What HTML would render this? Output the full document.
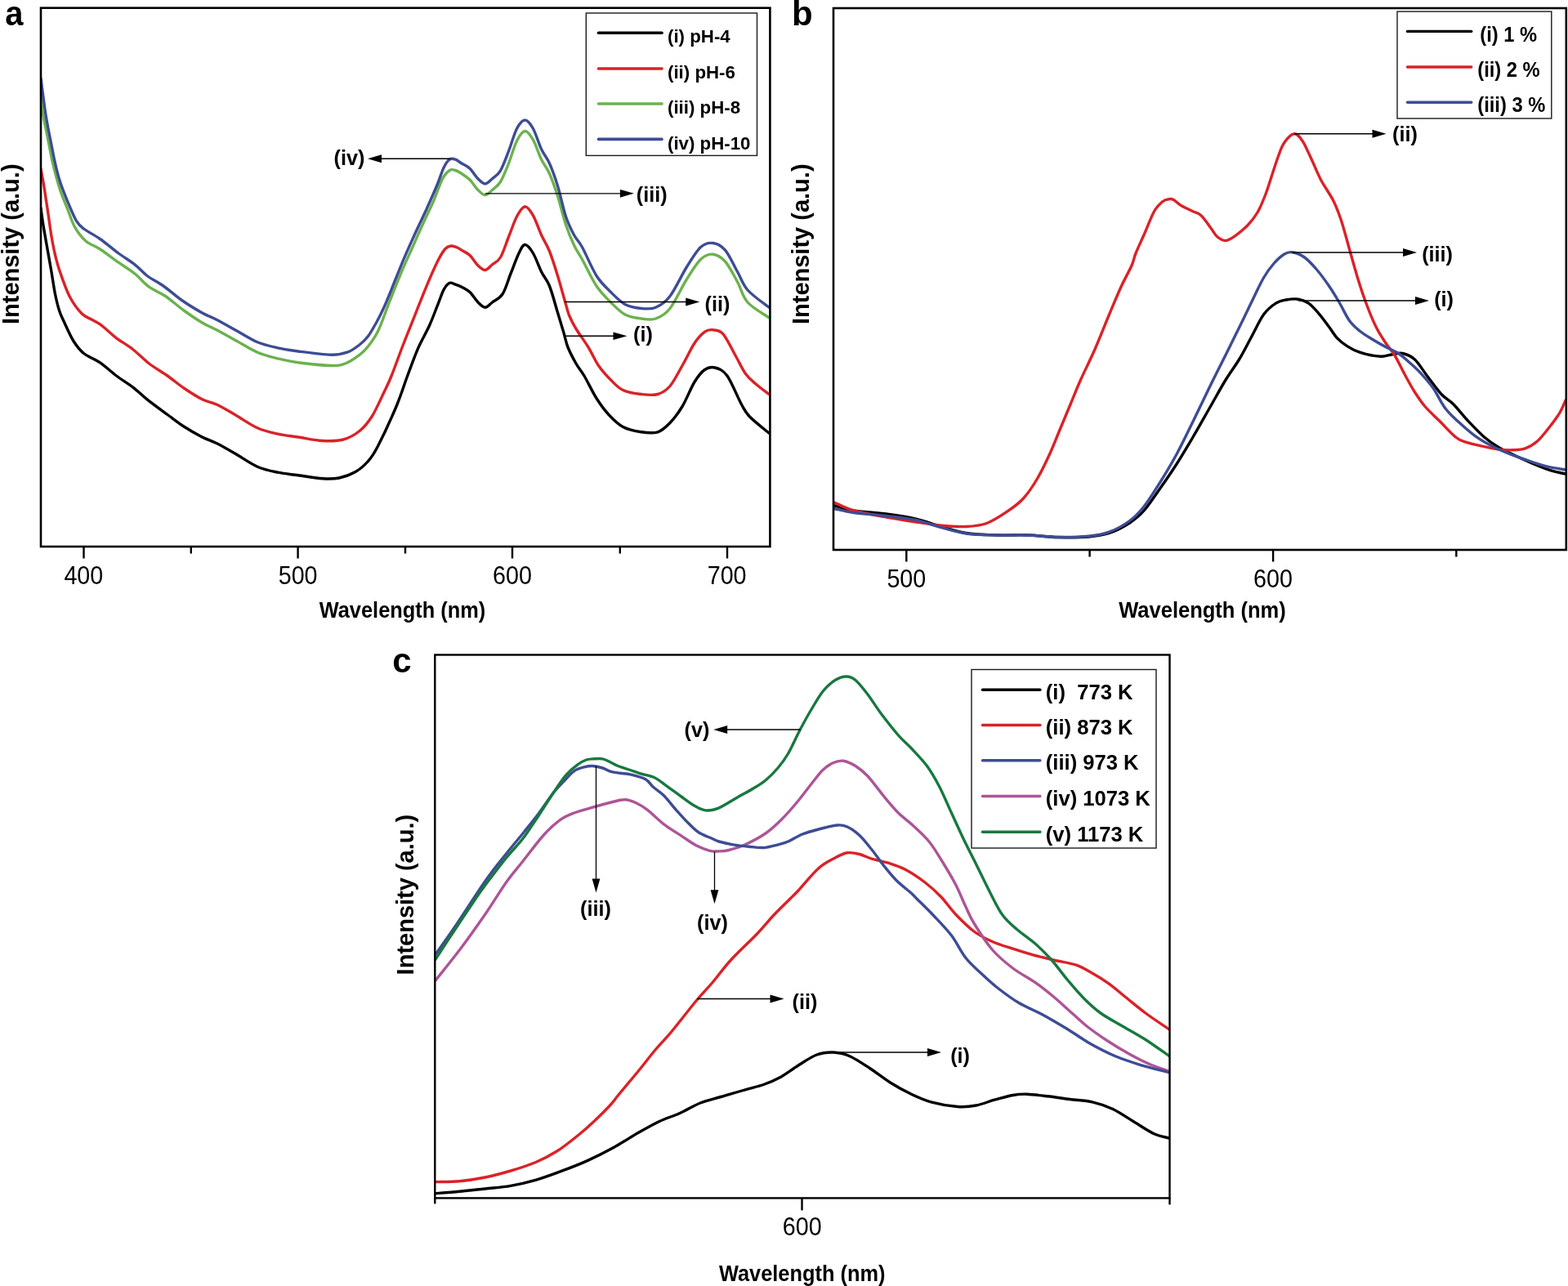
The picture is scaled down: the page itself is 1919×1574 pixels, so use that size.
<!DOCTYPE html>
<html><head><meta charset="utf-8"><title>Emission spectra figure</title>
<style>
html,body{margin:0;padding:0;background:#fff;}
body{width:1919px;height:1574px;overflow:hidden;}
svg{display:block;}
text{font-family:"Liberation Sans",Arial,Helvetica,sans-serif;fill:#000;white-space:pre;}
.b{font-weight:bold;}
</style></head><body>
<svg width="1919" height="1574" viewBox="0 0 1919 1574">
<rect x="0" y="0" width="1919" height="1574" fill="#fff"/>
<clipPath id="clip0"><rect x="50" y="9.7" width="892.4" height="659.3"/></clipPath>
<g clip-path="url(#clip0)">
<path d="M50.0,255.0 C50.4,258.1 51.7,267.7 52.6,273.5 C53.5,279.3 53.8,280.6 55.4,290.0 C57.0,299.4 60.5,318.3 62.5,330.0 C64.5,341.7 65.8,351.7 67.5,360.0 C69.2,368.3 70.8,374.7 72.5,380.0 C74.2,385.3 74.6,385.8 77.5,392.0 C80.4,398.2 85.8,410.8 90.0,417.5 C94.2,424.2 97.1,428.1 102.5,432.5 C107.9,436.9 115.8,439.2 122.5,443.8 C129.2,448.3 135.8,455.0 142.5,460.0 C149.2,465.0 156.2,469.0 162.5,473.8 C168.8,478.5 172.9,483.1 180.0,488.8 C187.1,494.4 197.5,502.0 205.0,507.5 C212.5,513.0 217.9,517.4 225.0,522.0 C232.1,526.6 240.8,531.6 247.5,535.0 C254.2,538.4 258.3,539.2 265.0,542.5 C271.7,545.8 279.2,550.2 287.5,555.0 C295.8,559.8 306.2,567.4 315.0,571.2 C323.8,575.1 331.7,576.5 340.0,578.2 C348.3,580.0 355.8,580.5 365.0,581.8 C374.2,583.0 386.7,585.2 395.0,585.8 C403.3,586.3 408.3,586.4 415.0,585.0 C421.7,583.6 429.2,580.8 435.0,577.5 C440.8,574.2 445.5,570.1 450.0,565.0 C454.5,559.9 456.2,558.2 462.0,547.0 C467.8,535.8 478.9,512.0 485.0,497.5 C491.1,483.0 494.3,471.7 498.7,460.0 C503.1,448.3 506.8,437.5 511.2,427.3 C515.6,417.1 521.2,408.0 525.4,398.8 C529.5,389.6 533.1,379.5 536.1,372.1 C539.1,364.7 540.8,358.6 543.2,354.3 C545.6,350.0 547.9,347.3 550.3,346.3 C552.7,345.3 554.9,347.3 557.4,348.1 C559.9,348.9 562.1,349.7 565.0,351.2 C567.9,352.8 571.7,354.4 575.0,357.5 C578.3,360.6 581.9,366.9 585.0,370.0 C588.1,373.1 590.8,376.2 593.8,376.2 C596.7,376.2 599.0,372.7 602.5,370.0 C606.0,367.3 611.2,365.8 615.0,360.0 C618.8,354.2 621.7,343.3 625.0,335.0 C628.3,326.7 632.1,315.9 635.0,310.0 C637.9,304.1 639.6,299.5 642.5,299.5 C645.4,299.5 649.2,304.5 652.5,310.0 C655.8,315.5 659.2,325.8 662.5,332.5 C665.8,339.2 669.2,341.7 672.5,350.0 C675.8,358.3 679.6,372.9 682.5,382.5 C685.4,392.1 687.9,400.4 690.0,407.5 C692.1,414.6 692.5,418.8 695.0,425.0 C697.5,431.2 701.7,439.2 705.0,445.0 C708.3,450.8 710.8,452.9 715.0,460.0 C719.2,467.1 725.0,479.6 730.0,487.5 C735.0,495.4 739.6,501.7 745.0,507.5 C750.4,513.3 755.8,519.0 762.5,522.5 C769.2,526.0 777.9,527.7 785.0,528.8 C792.1,529.8 799.2,530.6 805.0,528.8 C810.8,526.9 815.0,522.7 820.0,517.5 C825.0,512.3 830.0,505.8 835.0,497.5 C840.0,489.2 845.4,475.0 850.0,467.5 C854.6,460.0 858.3,455.4 862.5,452.5 C866.7,449.6 870.4,448.8 875.0,450.0 C879.6,451.2 884.6,452.5 890.0,460.0 C895.4,467.5 902.9,486.7 907.5,495.0 C912.1,503.3 911.9,504.2 917.5,510.0 C923.1,515.8 937.1,526.7 941.0,530.0" fill="none" stroke="#000000" stroke-width="3.4" stroke-linejoin="round" stroke-linecap="round"/>
<path d="M50.0,207.0 C50.6,210.1 52.4,219.5 53.5,225.8 C54.6,232.1 55.4,238.6 56.4,244.9 C57.4,251.2 58.2,256.4 59.3,263.9 C60.4,271.4 61.7,282.0 63.1,290.0 C64.5,298.0 65.9,305.3 67.5,312.0 C69.1,318.7 69.6,321.6 72.5,330.0 C75.4,338.4 80.4,353.5 85.0,362.5 C89.6,371.5 95.4,379.0 100.0,383.8 C104.6,388.5 108.3,388.8 112.5,391.2 C116.7,393.8 120.0,395.0 125.0,398.8 C130.0,402.5 136.2,409.0 142.5,413.8 C148.8,418.5 155.8,422.3 162.5,427.5 C169.2,432.7 175.4,439.6 182.5,445.0 C189.6,450.4 197.9,455.0 205.0,460.0 C212.1,465.0 217.9,470.2 225.0,475.0 C232.1,479.8 240.8,485.4 247.5,488.8 C254.2,492.1 258.3,491.9 265.0,495.0 C271.7,498.1 279.2,502.7 287.5,507.5 C295.8,512.3 306.2,519.8 315.0,523.8 C323.8,527.7 331.7,529.4 340.0,531.2 C348.3,533.1 355.8,533.6 365.0,535.0 C374.2,536.4 385.8,539.0 395.0,539.5 C404.2,540.0 412.5,540.0 420.0,538.0 C427.5,536.0 434.2,532.2 440.0,527.5 C445.8,522.8 450.0,517.9 455.0,510.0 C460.0,502.1 466.0,488.3 470.0,480.0 C474.0,471.7 475.2,469.7 479.1,460.0 C483.0,450.3 488.6,434.3 493.4,422.0 C498.1,409.7 502.9,398.3 507.6,386.4 C512.3,374.5 517.0,362.1 521.8,350.8 C526.5,339.5 532.2,326.5 536.1,318.8 C540.0,311.1 542.3,307.5 545.0,304.5 C547.7,301.5 549.7,301.3 552.1,301.0 C554.5,300.7 557.1,301.9 559.2,302.8 C561.4,303.7 562.4,304.6 565.0,306.2 C567.6,307.9 571.7,309.4 575.0,312.5 C578.3,315.6 581.9,322.0 585.0,325.0 C588.1,328.0 590.8,330.7 593.8,330.5 C596.7,330.3 599.4,326.3 602.5,323.8 C605.6,321.2 609.2,320.6 612.5,315.0 C615.8,309.4 619.2,298.3 622.5,290.0 C625.8,281.7 629.2,271.2 632.5,265.0 C635.8,258.8 639.2,253.2 642.5,253.0 C645.8,252.8 649.2,258.0 652.5,263.8 C655.8,269.5 659.2,280.2 662.5,287.5 C665.8,294.8 669.2,299.2 672.5,307.5 C675.8,315.8 679.2,326.7 682.5,337.5 C685.8,348.3 690.1,364.2 692.5,372.5 C694.9,380.8 694.9,382.0 697.0,387.0 C699.1,392.0 701.2,396.2 705.0,402.5 C708.8,408.8 715.4,417.5 720.0,425.0 C724.6,432.5 727.9,440.8 732.5,447.5 C737.1,454.2 742.5,460.0 747.5,465.0 C752.5,470.0 756.2,474.6 762.5,477.5 C768.8,480.4 777.9,481.7 785.0,482.5 C792.1,483.3 799.2,484.2 805.0,482.5 C810.8,480.8 815.0,478.3 820.0,472.5 C825.0,466.7 830.0,456.2 835.0,447.5 C840.0,438.8 845.4,426.9 850.0,420.0 C854.6,413.1 858.8,409.0 862.5,406.2 C866.2,403.5 868.8,403.3 872.5,403.8 C876.2,404.2 880.4,403.5 885.0,408.8 C889.6,414.0 895.4,426.9 900.0,435.0 C904.6,443.1 908.3,451.7 912.5,457.5 C916.7,463.3 920.2,465.8 925.0,470.0 C929.8,474.2 938.3,480.4 941.0,482.5" fill="none" stroke="#da2228" stroke-width="3.4" stroke-linejoin="round" stroke-linecap="round"/>
<path d="M50.0,118.0 C50.4,121.7 51.5,133.2 52.6,140.0 C53.7,146.8 55.1,152.7 56.4,159.0 C57.7,165.3 58.9,171.7 60.2,178.1 C61.5,184.5 62.6,190.8 64.0,197.2 C65.4,203.6 67.0,210.0 68.8,216.3 C70.5,222.7 72.3,229.0 74.5,235.3 C76.7,241.7 79.2,247.2 82.1,254.4 C85.0,261.6 87.9,271.4 91.7,278.2 C95.5,285.0 99.9,290.5 105.0,295.0 C110.1,299.5 115.8,300.6 122.5,305.0 C129.2,309.4 137.9,316.2 145.0,321.2 C152.1,326.2 158.8,330.0 165.0,335.0 C171.2,340.0 176.2,346.7 182.5,351.2 C188.8,355.8 195.4,357.7 202.5,362.5 C209.6,367.3 217.5,374.6 225.0,380.0 C232.5,385.4 240.8,391.0 247.5,395.0 C254.2,399.0 257.9,400.0 265.0,403.8 C272.1,407.5 281.7,412.9 290.0,417.5 C298.3,422.1 306.7,427.7 315.0,431.2 C323.3,434.8 331.7,436.7 340.0,438.8 C348.3,440.8 354.2,442.3 365.0,443.8 C375.8,445.2 395.4,447.3 405.0,447.5 C414.6,447.7 416.7,447.2 422.5,445.0 C428.3,442.8 435.3,437.9 440.0,434.4 C444.7,430.8 446.8,428.7 450.7,423.7 C454.6,418.7 459.0,412.8 463.1,404.2 C467.2,395.6 471.2,383.4 475.6,372.1 C480.1,360.8 485.1,347.9 489.8,336.6 C494.5,325.3 499.2,315.2 504.0,304.5 C508.8,293.8 513.8,282.3 518.3,272.5 C522.8,262.7 526.9,254.7 530.7,245.8 C534.6,236.9 538.1,225.3 541.4,219.1 C544.7,212.9 547.6,210.3 550.3,208.5 C553.0,206.7 554.9,207.8 557.4,208.5 C559.9,209.2 562.1,210.6 565.0,212.5 C567.9,214.4 571.7,216.7 575.0,220.0 C578.3,223.3 581.9,229.4 585.0,232.5 C588.1,235.6 590.8,238.8 593.8,238.8 C596.7,238.8 599.4,235.2 602.5,232.5 C605.6,229.8 609.2,227.9 612.5,222.5 C615.8,217.1 619.2,208.3 622.5,200.0 C625.8,191.7 629.2,179.1 632.5,172.5 C635.8,165.9 639.2,160.7 642.5,160.5 C645.8,160.3 649.2,165.5 652.5,171.2 C655.8,177.0 659.2,188.1 662.5,195.0 C665.8,201.9 669.2,205.0 672.5,212.5 C675.8,220.0 679.2,229.6 682.5,240.0 C685.8,250.4 689.2,265.0 692.5,275.0 C695.8,285.0 699.2,292.9 702.5,300.0 C705.8,307.1 707.9,309.2 712.5,317.5 C717.1,325.8 724.2,341.2 730.0,350.0 C735.8,358.8 741.7,364.2 747.5,370.0 C753.3,375.8 758.8,381.7 765.0,385.0 C771.2,388.3 778.8,389.2 785.0,390.0 C791.2,390.8 796.7,392.1 802.5,390.0 C808.3,387.9 813.8,385.4 820.0,377.5 C826.2,369.6 833.8,352.5 840.0,342.5 C846.2,332.5 852.1,322.7 857.5,317.5 C862.9,312.3 867.5,310.8 872.5,311.2 C877.5,311.7 882.5,314.4 887.5,320.0 C892.5,325.6 897.9,336.7 902.5,345.0 C907.1,353.3 908.6,362.7 915.0,370.0 C921.4,377.3 936.7,385.6 941.0,388.8" fill="none" stroke="#6bb24e" stroke-width="3.4" stroke-linejoin="round" stroke-linecap="round"/>
<path d="M50.0,96.0 C50.4,98.8 51.2,105.7 52.2,113.0 C53.2,120.3 54.7,132.3 55.9,140.0 C57.1,147.7 58.1,152.7 59.3,159.0 C60.5,165.3 61.8,171.7 63.1,178.1 C64.4,184.5 65.5,190.8 66.9,197.2 C68.3,203.6 70.0,210.7 71.6,216.3 C73.2,221.9 74.3,225.1 76.4,230.6 C78.5,236.1 81.1,242.9 84.0,249.6 C86.9,256.3 90.5,265.5 93.6,270.6 C96.7,275.7 97.7,276.4 102.5,280.0 C107.3,283.6 115.4,287.5 122.5,292.5 C129.6,297.5 137.9,304.8 145.0,310.0 C152.1,315.2 159.2,319.2 165.0,323.8 C170.8,328.3 174.2,333.1 180.0,337.5 C185.8,341.9 192.9,345.0 200.0,350.0 C207.1,355.0 214.6,362.0 222.5,367.5 C230.4,373.0 240.4,379.0 247.5,383.0 C254.6,387.0 257.9,387.6 265.0,391.2 C272.1,394.9 281.7,400.4 290.0,405.0 C298.3,409.6 306.7,415.3 315.0,418.8 C323.3,422.2 331.7,423.9 340.0,425.8 C348.3,427.6 354.2,428.6 365.0,430.0 C375.8,431.4 395.0,434.0 405.0,434.2 C415.0,434.5 419.2,433.3 425.0,431.2 C430.8,429.2 435.7,425.3 440.0,422.0 C444.3,418.7 447.1,416.1 450.7,411.3 C454.2,406.6 458.3,398.8 461.3,393.5 C464.3,388.2 465.5,385.8 468.5,379.3 C471.5,372.8 475.0,364.4 479.1,354.3 C483.2,344.2 488.6,330.1 493.4,318.8 C498.1,307.5 502.9,297.1 507.6,286.7 C512.3,276.3 517.3,266.3 521.8,256.5 C526.2,246.7 530.7,236.6 534.3,228.0 C537.9,219.4 540.5,210.4 543.2,204.9 C545.9,199.4 547.9,196.7 550.3,195.1 C552.7,193.5 554.9,194.3 557.4,195.1 C559.9,195.9 562.1,198.1 565.0,200.0 C567.9,201.9 571.7,203.1 575.0,206.2 C578.3,209.4 581.9,215.6 585.0,218.8 C588.1,221.9 590.8,225.0 593.8,225.0 C596.7,225.0 599.4,221.5 602.5,218.8 C605.6,216.0 609.2,214.4 612.5,208.8 C615.8,203.1 619.2,193.5 622.5,185.0 C625.8,176.5 629.2,163.8 632.5,157.5 C635.8,151.2 639.2,147.0 642.5,147.0 C645.8,147.0 649.2,151.6 652.5,157.5 C655.8,163.4 659.2,175.4 662.5,182.5 C665.8,189.6 669.2,192.5 672.5,200.0 C675.8,207.5 679.2,216.7 682.5,227.5 C685.8,238.3 689.2,255.0 692.5,265.0 C695.8,275.0 699.2,281.2 702.5,287.5 C705.8,293.8 707.9,294.2 712.5,302.5 C717.1,310.8 724.2,328.3 730.0,337.5 C735.8,346.7 741.7,351.7 747.5,357.5 C753.3,363.3 758.8,369.2 765.0,372.5 C771.2,375.8 778.8,376.9 785.0,377.5 C791.2,378.1 796.7,378.8 802.5,376.2 C808.3,373.8 813.8,370.6 820.0,362.5 C826.2,354.4 833.8,337.5 840.0,327.5 C846.2,317.5 852.1,307.5 857.5,302.5 C862.9,297.5 867.5,296.9 872.5,297.5 C877.5,298.1 882.5,300.4 887.5,306.2 C892.5,312.1 897.9,324.4 902.5,332.5 C907.1,340.6 908.6,347.7 915.0,355.0 C921.4,362.3 936.7,372.7 941.0,376.2" fill="none" stroke="#3d4c94" stroke-width="3.4" stroke-linejoin="round" stroke-linecap="round"/>
</g>
<rect x="50" y="9.7" width="892.4" height="659.3" fill="none" stroke="#000" stroke-width="2.6"/>
<line x1="102.5" y1="669" x2="102.5" y2="683.5" stroke="#000" stroke-width="2.4" stroke-linecap="butt"/>
<line x1="233.8" y1="669" x2="233.8" y2="677.5" stroke="#000" stroke-width="2.4" stroke-linecap="butt"/>
<line x1="364.6" y1="669" x2="364.6" y2="683.5" stroke="#000" stroke-width="2.4" stroke-linecap="butt"/>
<line x1="496" y1="669" x2="496" y2="677.5" stroke="#000" stroke-width="2.4" stroke-linecap="butt"/>
<line x1="627" y1="669" x2="627" y2="683.5" stroke="#000" stroke-width="2.4" stroke-linecap="butt"/>
<line x1="758.8" y1="669" x2="758.8" y2="677.5" stroke="#000" stroke-width="2.4" stroke-linecap="butt"/>
<line x1="890" y1="669" x2="890" y2="683.5" stroke="#000" stroke-width="2.4" stroke-linecap="butt"/>
<text x="0" y="0" font-size="30.5" text-anchor="middle" transform="translate(102.30,714.50) scale(0.940,1)">400</text>
<text x="0" y="0" font-size="30.5" text-anchor="middle" transform="translate(364.60,714.50) scale(0.940,1)">500</text>
<text x="0" y="0" font-size="30.5" text-anchor="middle" transform="translate(627.00,714.50) scale(0.940,1)">600</text>
<text x="0" y="0" font-size="30.5" text-anchor="middle" transform="translate(889.60,714.50) scale(0.940,1)">700</text>
<text x="0" y="0" font-size="27.3" class="b" text-anchor="middle" transform="translate(492.50,756.00) scale(0.930,1)">Wavelength (nm)</text>
<text x="0" y="0" font-size="29" class="b" text-anchor="middle" transform="translate(23.00,298.75) rotate(-90)">Intensity (a.u.)</text>
<text x="0" y="0" font-size="42" class="b" text-anchor="start" transform="translate(6.30,31.00) scale(0.950,1)">a</text>
<text x="0" y="0" font-size="25.2" class="b" text-anchor="end" transform="translate(446.30,202.00)">(iv)</text>
<text x="0" y="0" font-size="25.2" class="b" text-anchor="start" transform="translate(778.80,247.20)">(iii)</text>
<text x="0" y="0" font-size="25.2" class="b" text-anchor="start" transform="translate(862.50,380.80)">(ii)</text>
<text x="0" y="0" font-size="25.2" class="b" text-anchor="start" transform="translate(775.00,418.30)">(i)</text>
<rect x="717.3" y="16" width="209.2" height="174.4" fill="#fff" stroke="#1a1a1a" stroke-width="1.4"/>
<line x1="732.5" y1="40.2" x2="810" y2="40.2" stroke="#000000" stroke-width="3.6" stroke-linecap="round"/>
<text x="0" y="0" font-size="22.4" class="b" text-anchor="start" transform="translate(817.00,52.40) scale(0.995,1)">(i) pH-4</text>
<line x1="732.5" y1="84" x2="810" y2="84" stroke="#da2228" stroke-width="3.6" stroke-linecap="round"/>
<text x="0" y="0" font-size="22.4" class="b" text-anchor="start" transform="translate(817.00,96.20) scale(0.995,1)">(ii) pH-6</text>
<line x1="732.5" y1="127" x2="810" y2="127" stroke="#6bb24e" stroke-width="3.6" stroke-linecap="round"/>
<text x="0" y="0" font-size="22.4" class="b" text-anchor="start" transform="translate(817.00,139.20) scale(0.995,1)">(iii) pH-8</text>
<line x1="732.5" y1="170.4" x2="810" y2="170.4" stroke="#3d4c94" stroke-width="3.6" stroke-linecap="round"/>
<text x="0" y="0" font-size="22.4" class="b" text-anchor="start" transform="translate(817.00,182.60) scale(0.995,1)">(iv) pH-10</text>
<line x1="551.25" y1="194.25" x2="466.0" y2="194.25" stroke="#000" stroke-width="1.3" stroke-linecap="butt"/><polygon points="450.0,194.2 467.0,189.3 467.0,199.2" fill="#000"/>
<line x1="593.75" y1="236.8" x2="759.9" y2="236.8" stroke="#000" stroke-width="1.3" stroke-linecap="butt"/><polygon points="775.9,236.8 758.9,241.7 758.9,231.9" fill="#000"/>
<line x1="691.25" y1="369.5" x2="840.25" y2="369.5" stroke="#000" stroke-width="1.3" stroke-linecap="butt"/><polygon points="856.2,369.5 839.2,374.4 839.2,364.6" fill="#000"/>
<line x1="691.25" y1="411.25" x2="751.5" y2="411.25" stroke="#000" stroke-width="1.3" stroke-linecap="butt"/><polygon points="767.5,411.2 750.5,416.1 750.5,406.4" fill="#000"/>
<clipPath id="clip1"><rect x="1020" y="10" width="896.8" height="663"/></clipPath>
<g clip-path="url(#clip1)">
<path d="M1021.0,618.8 C1025.0,619.8 1034.8,623.3 1045.0,625.0 C1055.2,626.7 1070.0,627.1 1082.5,628.8 C1095.0,630.4 1108.8,632.5 1120.0,635.0 C1131.2,637.5 1139.6,640.8 1150.0,643.8 C1160.4,646.7 1170.8,650.6 1182.5,652.5 C1194.2,654.4 1207.5,654.6 1220.0,655.0 C1232.5,655.4 1245.0,654.6 1257.5,655.0 C1270.0,655.4 1282.5,657.2 1295.0,657.5 C1307.5,657.8 1322.1,657.8 1332.5,657.0 C1342.9,656.2 1349.2,655.3 1357.5,652.5 C1365.8,649.7 1375.4,644.6 1382.5,640.0 C1389.6,635.4 1393.8,632.1 1400.0,625.0 C1406.2,617.9 1413.3,607.0 1420.0,597.5 C1426.7,588.0 1433.3,578.4 1440.0,568.0 C1446.7,557.6 1453.3,546.3 1460.0,535.0 C1466.7,523.7 1473.3,511.7 1480.0,500.0 C1486.7,488.3 1493.9,475.0 1500.0,465.0 C1506.1,455.0 1511.2,448.8 1516.5,440.0 C1521.8,431.2 1526.5,421.7 1531.5,412.5 C1536.5,403.3 1541.5,391.9 1546.5,385.0 C1551.5,378.1 1556.9,374.2 1561.5,371.2 C1566.1,368.2 1569.4,367.8 1574.0,367.0 C1578.6,366.2 1584.4,365.5 1589.0,366.2 C1593.6,367.0 1597.3,368.3 1601.5,371.2 C1605.7,374.2 1609.8,379.0 1614.0,383.8 C1618.2,388.5 1622.8,395.0 1626.5,400.0 C1630.2,405.0 1632.8,409.8 1636.5,413.8 C1640.2,417.7 1644.4,420.8 1649.0,423.8 C1653.6,426.7 1659.0,429.4 1664.0,431.2 C1669.0,433.1 1674.4,434.2 1679.0,435.0 C1683.6,435.8 1687.3,436.5 1691.5,436.2 C1695.7,436.0 1699.8,434.4 1704.0,433.8 C1708.2,433.1 1711.9,431.5 1716.5,432.5 C1721.1,433.5 1726.5,435.4 1731.5,440.0 C1736.5,444.6 1741.1,452.9 1746.5,460.0 C1751.9,467.1 1758.6,476.7 1764.0,482.5 C1769.4,488.3 1773.6,489.6 1779.0,495.0 C1784.4,500.4 1790.2,508.3 1796.5,515.0 C1802.8,521.7 1810.2,529.6 1816.5,535.0 C1822.8,540.4 1827.8,543.8 1834.0,547.5 C1840.2,551.2 1846.5,554.0 1854.0,557.5 C1861.5,561.0 1871.5,565.6 1879.0,568.8 C1886.5,571.9 1892.8,574.4 1899.0,576.2 C1905.2,578.1 1913.2,579.4 1916.0,580.0" fill="none" stroke="#000000" stroke-width="3.4" stroke-linejoin="round" stroke-linecap="round"/>
<path d="M1021.0,615.0 C1025.0,616.7 1034.8,622.1 1045.0,625.0 C1055.2,627.9 1070.0,630.2 1082.5,632.5 C1095.0,634.8 1108.8,637.0 1120.0,638.8 C1131.2,640.5 1139.6,642.0 1150.0,643.0 C1160.4,644.0 1172.9,644.9 1182.5,644.5 C1192.1,644.1 1199.2,643.5 1207.5,640.5 C1215.8,637.5 1225.0,631.3 1232.5,626.2 C1240.0,621.2 1246.2,616.9 1252.5,610.0 C1258.8,603.1 1264.6,594.2 1270.0,585.0 C1275.4,575.8 1280.4,565.0 1285.0,555.0 C1289.6,545.0 1293.3,535.0 1297.5,525.0 C1301.7,515.0 1305.8,505.0 1310.0,495.0 C1314.2,485.0 1317.5,476.2 1322.5,465.0 C1327.5,453.8 1334.2,440.8 1340.0,427.5 C1345.8,414.2 1352.1,397.9 1357.5,385.0 C1362.9,372.1 1367.9,360.0 1372.5,350.0 C1377.1,340.0 1382.1,331.7 1385.0,325.0 C1387.9,318.3 1387.5,316.2 1390.0,310.0 C1392.5,303.8 1396.2,296.0 1400.0,287.5 C1403.8,279.0 1408.8,265.5 1412.5,258.8 C1416.2,252.0 1419.6,249.5 1422.5,247.0 C1425.4,244.5 1427.7,244.2 1430.0,243.8 C1432.3,243.3 1433.8,243.2 1436.2,244.5 C1438.8,245.8 1441.0,248.9 1445.0,251.2 C1449.0,253.6 1455.8,256.7 1460.0,258.8 C1464.2,260.8 1466.2,260.2 1470.0,263.8 C1473.8,267.3 1479.2,275.6 1482.5,280.0 C1485.8,284.4 1487.0,287.6 1490.0,290.0 C1493.0,292.4 1496.7,294.7 1500.2,294.5 C1503.8,294.3 1507.1,291.8 1511.5,288.8 C1515.9,285.7 1521.9,281.0 1526.5,276.2 C1531.1,271.5 1535.2,266.5 1539.0,260.0 C1542.8,253.5 1546.1,245.0 1549.0,237.5 C1551.9,230.0 1554.0,222.5 1556.5,215.0 C1559.0,207.5 1561.5,199.2 1564.0,192.5 C1566.5,185.8 1568.2,179.8 1571.5,175.0 C1574.8,170.2 1580.2,164.2 1584.0,163.8 C1587.8,163.3 1590.7,167.7 1594.0,172.5 C1597.3,177.3 1600.2,184.6 1604.0,192.5 C1607.8,200.4 1611.9,211.2 1616.5,220.0 C1621.1,228.8 1627.3,236.7 1631.5,245.0 C1635.7,253.3 1638.2,260.0 1641.5,270.0 C1644.8,280.0 1648.2,293.3 1651.5,305.0 C1654.8,316.7 1658.2,329.2 1661.5,340.0 C1664.8,350.8 1667.8,360.0 1671.5,370.0 C1675.2,380.0 1679.9,391.7 1684.0,400.0 C1688.1,408.3 1692.2,414.2 1696.0,420.0 C1699.8,425.8 1703.2,428.7 1707.0,435.0 C1710.8,441.3 1714.9,450.5 1719.0,458.0 C1723.1,465.5 1727.3,473.4 1731.5,480.0 C1735.7,486.6 1739.0,491.7 1744.0,497.5 C1749.0,503.3 1755.2,508.8 1761.5,515.0 C1767.8,521.2 1776.1,530.6 1781.5,535.0 C1786.9,539.4 1788.6,539.4 1794.0,541.2 C1799.4,543.1 1807.3,544.8 1814.0,546.2 C1820.7,547.7 1827.8,549.2 1834.0,550.0 C1840.2,550.8 1846.1,551.0 1851.5,550.8 C1856.9,550.5 1861.5,550.5 1866.5,548.8 C1871.5,547.0 1876.5,544.4 1881.5,540.0 C1886.5,535.6 1891.9,528.3 1896.5,522.5 C1901.1,516.7 1905.8,510.4 1909.0,505.0 C1912.2,499.6 1914.8,492.5 1916.0,490.0" fill="none" stroke="#da2228" stroke-width="3.4" stroke-linejoin="round" stroke-linecap="round"/>
<path d="M1021.0,622.5 C1025.0,623.3 1034.8,626.0 1045.0,627.5 C1055.2,629.0 1070.0,629.8 1082.5,631.2 C1095.0,632.7 1108.8,634.0 1120.0,636.2 C1131.2,638.5 1139.6,642.2 1150.0,645.0 C1160.4,647.8 1170.8,651.3 1182.5,653.0 C1194.2,654.7 1207.5,654.7 1220.0,655.0 C1232.5,655.3 1245.0,654.6 1257.5,655.0 C1270.0,655.4 1282.5,657.3 1295.0,657.5 C1307.5,657.7 1322.1,657.3 1332.5,656.2 C1342.9,655.2 1349.2,654.4 1357.5,651.2 C1365.8,648.1 1375.4,642.7 1382.5,637.5 C1389.6,632.3 1393.8,627.9 1400.0,620.0 C1406.2,612.1 1413.3,600.7 1420.0,590.0 C1426.7,579.3 1433.3,568.3 1440.0,556.0 C1446.7,543.7 1453.2,529.9 1460.0,516.0 C1466.8,502.1 1474.2,486.4 1481.0,472.5 C1487.8,458.6 1494.7,445.2 1501.0,432.5 C1507.3,419.8 1513.5,407.2 1519.0,396.0 C1524.5,384.8 1529.4,374.3 1534.0,365.0 C1538.6,355.7 1542.3,347.1 1546.5,340.0 C1550.7,332.9 1554.8,327.3 1559.0,322.5 C1563.2,317.7 1567.8,313.5 1571.5,311.2 C1575.2,309.0 1577.3,308.1 1581.5,308.8 C1585.7,309.4 1591.5,311.5 1596.5,315.0 C1601.5,318.5 1606.5,324.2 1611.5,330.0 C1616.5,335.8 1621.9,343.3 1626.5,350.0 C1631.1,356.7 1634.8,362.9 1639.0,370.0 C1643.2,377.1 1647.3,386.7 1651.5,392.5 C1655.7,398.3 1659.4,401.2 1664.0,405.0 C1668.6,408.8 1673.6,411.7 1679.0,415.0 C1684.4,418.3 1691.1,422.1 1696.5,425.0 C1701.9,427.9 1706.5,429.2 1711.5,432.5 C1716.5,435.8 1721.9,440.9 1726.5,445.0 C1731.1,449.1 1734.4,452.0 1739.0,457.0 C1743.6,462.0 1749.0,467.8 1754.0,475.0 C1759.0,482.2 1763.2,492.5 1769.0,500.0 C1774.8,507.5 1782.3,514.0 1789.0,520.0 C1795.7,526.0 1802.3,531.7 1809.0,536.2 C1815.7,540.8 1822.3,544.2 1829.0,547.5 C1835.7,550.8 1841.5,553.3 1849.0,556.2 C1856.5,559.2 1866.5,562.5 1874.0,565.0 C1881.5,567.5 1887.0,569.6 1894.0,571.2 C1901.0,572.9 1912.3,574.4 1916.0,575.0" fill="none" stroke="#3d4c94" stroke-width="3.4" stroke-linejoin="round" stroke-linecap="round"/>
</g>
<rect x="1020" y="10" width="896.8" height="663" fill="none" stroke="#000" stroke-width="2.6"/>
<line x1="1109.3" y1="673" x2="1109.3" y2="687.5" stroke="#000" stroke-width="2.4" stroke-linecap="butt"/>
<line x1="1333.6" y1="673" x2="1333.6" y2="681.5" stroke="#000" stroke-width="2.4" stroke-linecap="butt"/>
<line x1="1558.1" y1="673" x2="1558.1" y2="687.5" stroke="#000" stroke-width="2.4" stroke-linecap="butt"/>
<line x1="1782.3" y1="673" x2="1782.3" y2="681.5" stroke="#000" stroke-width="2.4" stroke-linecap="butt"/>
<text x="0" y="0" font-size="30.5" text-anchor="middle" transform="translate(1109.30,719.00) scale(0.940,1)">500</text>
<text x="0" y="0" font-size="30.5" text-anchor="middle" transform="translate(1558.00,719.00) scale(0.940,1)">600</text>
<text x="0" y="0" font-size="27.3" class="b" text-anchor="middle" transform="translate(1471.50,755.60) scale(0.935,1)">Wavelength (nm)</text>
<text x="0" y="0" font-size="29" class="b" text-anchor="middle" transform="translate(990.00,298.75) rotate(-90)">Intensity (a.u.)</text>
<text x="0" y="0" font-size="42" class="b" text-anchor="start" transform="translate(969.00,31.00)">b</text>
<text x="0" y="0" font-size="25.2" class="b" text-anchor="start" transform="translate(1704.00,172.60)">(ii)</text>
<text x="0" y="0" font-size="25.2" class="b" text-anchor="start" transform="translate(1740.20,320.20)">(iii)</text>
<text x="0" y="0" font-size="25.2" class="b" text-anchor="start" transform="translate(1755.20,374.50)">(i)</text>
<rect x="1710" y="14.1" width="188.8" height="130.9" fill="#fff" stroke="#1a1a1a" stroke-width="1.4"/>
<line x1="1722.5" y1="38.4" x2="1800.7" y2="38.4" stroke="#000000" stroke-width="3.4" stroke-linecap="round"/>
<text x="0" y="0" font-size="25.5" class="b" text-anchor="start" transform="translate(1811.30,50.50) scale(0.930,1)">(i) 1 %</text>
<line x1="1722.5" y1="82" x2="1800.7" y2="82" stroke="#da2228" stroke-width="3.4" stroke-linecap="round"/>
<text x="0" y="0" font-size="25.5" class="b" text-anchor="start" transform="translate(1808.30,94.10) scale(0.930,1)">(ii) 2 %</text>
<line x1="1722.5" y1="125.3" x2="1800.7" y2="125.3" stroke="#3d4c94" stroke-width="3.4" stroke-linecap="round"/>
<text x="0" y="0" font-size="25.5" class="b" text-anchor="start" transform="translate(1808.30,137.40) scale(0.930,1)">(iii) 3 %</text>
<line x1="1584" y1="163.75" x2="1680.5" y2="163.75" stroke="#000" stroke-width="1.3" stroke-linecap="butt"/><polygon points="1696.5,163.8 1679.5,168.7 1679.5,158.8" fill="#000"/>
<line x1="1581.5" y1="309" x2="1718.0" y2="309.0" stroke="#000" stroke-width="1.3" stroke-linecap="butt"/><polygon points="1734.0,309.0 1717.0,313.9 1717.0,304.1" fill="#000"/>
<line x1="1589" y1="368" x2="1733.0" y2="368.0" stroke="#000" stroke-width="1.3" stroke-linecap="butt"/><polygon points="1749.0,368.0 1732.0,372.9 1732.0,363.1" fill="#000"/>
<clipPath id="clip2"><rect x="532.3" y="801.5" width="899.2" height="664.9"/></clipPath>
<g clip-path="url(#clip2)">
<path d="M533.0,1460.7 C537.9,1460.3 552.4,1459.2 562.5,1458.2 C572.6,1457.2 583.4,1456.2 593.8,1455.0 C604.2,1453.8 614.6,1453.1 625.0,1451.3 C635.4,1449.5 645.9,1447.1 656.3,1444.1 C666.7,1441.1 677.2,1437.1 687.6,1433.2 C698.0,1429.3 708.3,1425.4 718.9,1420.6 C729.5,1415.8 740.6,1410.2 751.0,1404.5 C761.4,1398.8 772.1,1391.6 781.4,1386.3 C790.7,1381.0 798.6,1376.5 807.0,1372.5 C815.4,1368.5 823.7,1366.2 832.0,1362.5 C840.3,1358.8 848.7,1353.3 857.0,1350.0 C865.3,1346.7 872.8,1345.2 882.0,1342.5 C891.2,1339.8 903.2,1336.2 912.0,1333.8 C920.8,1331.2 927.5,1330.0 934.5,1327.5 C941.5,1325.0 946.9,1322.9 954.0,1319.0 C961.1,1315.1 969.4,1308.7 977.0,1304.0 C984.6,1299.3 992.4,1293.7 999.5,1291.0 C1006.6,1288.3 1012.8,1287.8 1019.5,1288.0 C1026.2,1288.2 1032.0,1289.2 1039.5,1292.5 C1047.0,1295.8 1056.2,1302.1 1064.5,1307.5 C1072.8,1312.9 1081.2,1319.8 1089.5,1325.0 C1097.8,1330.2 1106.2,1334.8 1114.5,1338.8 C1122.8,1342.7 1129.9,1346.1 1139.5,1348.8 C1149.1,1351.4 1162.8,1353.8 1172.0,1354.5 C1181.2,1355.2 1187.0,1354.4 1194.5,1353.0 C1202.0,1351.6 1209.5,1348.3 1217.0,1346.2 C1224.5,1344.2 1232.8,1341.7 1239.5,1340.5 C1246.2,1339.3 1249.9,1339.0 1257.0,1339.2 C1264.1,1339.5 1273.2,1340.7 1282.0,1341.8 C1290.8,1342.8 1300.3,1344.3 1309.5,1345.5 C1318.7,1346.7 1328.2,1346.8 1337.0,1348.8 C1345.8,1350.8 1353.7,1353.5 1362.0,1357.5 C1370.3,1361.5 1378.7,1367.5 1387.0,1372.5 C1395.3,1377.5 1404.7,1384.1 1412.0,1387.5 C1419.3,1390.9 1427.8,1392.1 1431.0,1393.0" fill="none" stroke="#000000" stroke-width="3.4" stroke-linejoin="round" stroke-linecap="round"/>
<path d="M533.0,1446.6 C537.9,1446.4 552.4,1446.6 562.5,1445.7 C572.6,1444.8 583.4,1443.1 593.8,1441.0 C604.2,1438.9 614.6,1436.1 625.0,1433.0 C635.4,1429.9 646.8,1426.2 656.3,1422.2 C665.8,1418.2 673.5,1414.1 682.0,1408.8 C690.5,1403.4 699.5,1396.0 707.0,1390.0 C714.5,1384.0 720.3,1378.8 727.0,1372.5 C733.7,1366.2 742.0,1357.9 747.0,1352.5 C752.0,1347.1 751.2,1347.1 757.0,1340.0 C762.8,1332.9 774.5,1319.2 782.0,1310.0 C789.5,1300.8 795.3,1292.9 802.0,1285.0 C808.7,1277.1 813.7,1272.5 822.0,1262.5 C830.3,1252.5 843.7,1235.0 852.0,1225.0 C860.3,1215.0 864.9,1210.8 872.0,1202.5 C879.1,1194.2 885.3,1185.0 894.5,1175.0 C903.7,1165.0 918.2,1151.7 927.0,1142.5 C935.8,1133.3 940.3,1127.1 947.0,1120.0 C953.7,1112.9 962.0,1105.0 967.0,1100.0 C972.0,1095.0 971.2,1096.2 977.0,1090.0 C982.8,1083.8 994.5,1069.2 1002.0,1062.5 C1009.5,1055.8 1016.2,1053.1 1022.0,1050.0 C1027.8,1046.9 1032.0,1044.5 1037.0,1043.8 C1042.0,1043.0 1047.0,1044.2 1052.0,1045.5 C1057.0,1046.8 1061.2,1049.5 1067.0,1051.2 C1072.8,1053.0 1080.3,1054.2 1087.0,1056.2 C1093.7,1058.3 1099.5,1059.8 1107.0,1063.8 C1114.5,1067.7 1124.5,1074.3 1132.0,1080.0 C1139.5,1085.7 1145.8,1091.5 1152.0,1098.0 C1158.2,1104.5 1162.8,1112.0 1169.5,1119.0 C1176.2,1126.0 1184.5,1134.4 1192.0,1140.0 C1199.5,1145.6 1206.6,1149.0 1214.5,1152.5 C1222.4,1156.0 1231.2,1158.5 1239.5,1161.2 C1247.8,1164.0 1256.2,1166.5 1264.5,1168.8 C1272.8,1171.0 1280.8,1172.9 1289.5,1175.0 C1298.2,1177.1 1309.1,1178.5 1317.0,1181.2 C1324.9,1184.0 1330.3,1187.5 1337.0,1191.2 C1343.7,1195.0 1350.3,1199.0 1357.0,1203.8 C1363.7,1208.5 1369.5,1214.0 1377.0,1220.0 C1384.5,1226.0 1393.0,1233.3 1402.0,1240.0 C1411.0,1246.7 1426.2,1256.7 1431.0,1260.0" fill="none" stroke="#da2228" stroke-width="3.4" stroke-linejoin="round" stroke-linecap="round"/>
<path d="M533.0,1200.0 C538.2,1193.3 554.2,1173.7 564.5,1160.0 C574.8,1146.3 585.3,1131.3 594.5,1118.0 C603.7,1104.7 611.9,1090.7 619.5,1080.0 C627.1,1069.3 632.4,1063.6 640.0,1054.0 C647.6,1044.4 657.5,1030.9 665.0,1022.5 C672.5,1014.1 678.8,1008.4 685.0,1003.8 C691.2,999.2 695.4,997.7 702.5,995.0 C709.6,992.3 719.9,989.7 727.5,987.5 C735.1,985.3 741.8,983.5 748.0,982.0 C754.2,980.5 759.8,978.6 765.0,978.8 C770.2,979.0 774.4,980.9 779.0,983.0 C783.6,985.1 786.9,987.0 792.5,991.3 C798.1,995.6 805.4,1003.4 812.5,1008.8 C819.6,1014.2 828.3,1019.4 835.0,1023.8 C841.7,1028.2 846.9,1032.1 852.5,1035.0 C858.1,1037.9 864.2,1040.1 868.8,1041.3 C873.4,1042.5 876.1,1042.0 880.0,1041.9 C883.9,1041.8 886.7,1041.9 892.0,1040.5 C897.3,1039.1 904.5,1037.2 912.0,1033.8 C919.5,1030.3 929.5,1025.2 937.0,1020.0 C944.5,1014.8 950.3,1009.2 957.0,1002.5 C963.7,995.8 970.8,987.5 977.0,980.0 C983.2,972.5 989.5,963.8 994.5,957.5 C999.5,951.2 1002.8,946.5 1007.0,942.5 C1011.2,938.5 1015.3,935.6 1019.5,933.8 C1023.7,931.9 1027.4,930.6 1032.0,931.2 C1036.6,931.9 1042.0,934.4 1047.0,937.5 C1052.0,940.6 1056.2,943.8 1062.0,950.0 C1067.8,956.2 1075.8,967.5 1082.0,975.0 C1088.2,982.5 1093.7,989.2 1099.5,995.0 C1105.3,1000.8 1110.8,1004.2 1117.0,1010.0 C1123.2,1015.8 1131.2,1022.9 1137.0,1030.0 C1142.8,1037.1 1146.6,1043.8 1152.0,1052.5 C1157.4,1061.2 1164.5,1072.9 1169.5,1082.5 C1174.5,1092.1 1178.2,1102.1 1182.0,1110.0 C1185.8,1117.9 1186.6,1121.2 1192.0,1130.0 C1197.4,1138.8 1206.6,1153.3 1214.5,1162.5 C1222.4,1171.7 1230.8,1178.3 1239.5,1185.0 C1248.2,1191.7 1258.7,1196.7 1267.0,1202.5 C1275.3,1208.3 1282.0,1213.8 1289.5,1220.0 C1297.0,1226.2 1304.9,1233.8 1312.0,1240.0 C1319.1,1246.2 1324.5,1251.7 1332.0,1257.5 C1339.5,1263.3 1348.7,1269.6 1357.0,1275.0 C1365.3,1280.4 1373.7,1285.4 1382.0,1290.0 C1390.3,1294.6 1398.8,1299.0 1407.0,1302.5 C1415.2,1306.0 1427.0,1309.8 1431.0,1311.2" fill="none" stroke="#ad5597" stroke-width="3.4" stroke-linejoin="round" stroke-linecap="round"/>
<path d="M533.0,1168.0 C537.0,1162.3 546.8,1149.1 557.0,1134.0 C567.2,1118.9 584.1,1092.3 594.5,1077.5 C604.9,1062.7 611.9,1054.6 619.5,1045.0 C627.1,1035.4 633.5,1028.1 640.0,1020.0 C646.5,1011.9 652.5,1004.6 658.8,996.3 C665.0,988.0 672.3,976.7 677.5,970.0 C682.7,963.3 685.8,960.7 690.0,956.3 C694.2,951.9 698.3,946.7 702.5,943.8 C706.7,940.9 711.2,939.8 715.0,938.8 C718.8,937.8 721.2,937.3 725.0,937.5 C728.8,937.7 733.8,938.9 737.5,940.0 C741.2,941.1 744.0,943.4 747.5,944.4 C751.0,945.4 754.6,945.7 758.8,946.3 C763.0,946.9 767.3,946.9 772.5,948.1 C777.7,949.4 785.4,951.2 790.0,953.8 C794.6,956.4 796.2,960.5 800.0,963.8 C803.8,967.1 807.9,969.2 812.5,973.8 C817.1,978.4 822.5,985.7 827.5,991.3 C832.5,996.9 837.9,1002.9 842.5,1007.5 C847.1,1012.1 850.2,1015.7 855.0,1018.8 C859.8,1021.9 867.1,1024.4 871.3,1026.3 C875.5,1028.2 875.7,1028.8 880.0,1030.0 C884.3,1031.2 890.8,1032.7 897.0,1033.8 C903.2,1034.8 910.8,1035.6 917.0,1036.2 C923.2,1036.9 928.7,1037.9 934.5,1037.5 C940.3,1037.1 947.0,1035.0 952.0,1033.8 C957.0,1032.5 959.5,1032.1 964.5,1030.0 C969.5,1027.9 975.8,1023.5 982.0,1021.0 C988.2,1018.5 994.9,1016.8 1002.0,1015.0 C1009.1,1013.2 1018.7,1010.5 1024.5,1010.0 C1030.3,1009.5 1032.4,1009.9 1037.0,1012.0 C1041.6,1014.1 1047.0,1017.8 1052.0,1022.5 C1057.0,1027.2 1062.0,1033.8 1067.0,1040.0 C1072.0,1046.2 1077.0,1053.8 1082.0,1060.0 C1087.0,1066.2 1091.6,1072.1 1097.0,1077.5 C1102.4,1082.9 1110.3,1088.8 1114.5,1092.5 C1118.7,1096.2 1117.4,1095.4 1122.0,1100.0 C1126.6,1104.6 1134.9,1112.5 1142.0,1120.0 C1149.1,1127.5 1157.8,1136.2 1164.5,1145.0 C1171.2,1153.8 1175.8,1164.6 1182.0,1172.5 C1188.2,1180.4 1195.3,1186.2 1202.0,1192.5 C1208.7,1198.8 1214.5,1204.2 1222.0,1210.0 C1229.5,1215.8 1237.8,1222.1 1247.0,1227.5 C1256.2,1232.9 1267.0,1237.1 1277.0,1242.5 C1287.0,1247.9 1297.4,1254.2 1307.0,1260.0 C1316.6,1265.8 1324.9,1272.1 1334.5,1277.5 C1344.1,1282.9 1354.1,1288.1 1364.5,1292.5 C1374.9,1296.9 1385.9,1300.4 1397.0,1303.8 C1408.1,1307.1 1425.3,1311.0 1431.0,1312.5" fill="none" stroke="#3d4c94" stroke-width="3.4" stroke-linejoin="round" stroke-linecap="round"/>
<path d="M533.0,1174.0 C537.0,1167.9 548.8,1149.8 557.0,1137.5 C565.2,1125.2 575.8,1109.2 582.0,1100.0 C588.2,1090.8 588.2,1090.8 594.5,1082.5 C600.8,1074.2 611.9,1059.4 619.5,1050.0 C627.1,1040.6 633.5,1034.8 640.0,1026.3 C646.5,1017.8 652.5,1008.2 658.8,998.8 C665.0,989.4 671.9,978.3 677.5,970.0 C683.1,961.7 687.7,954.4 692.5,948.8 C697.3,943.2 702.1,939.4 706.3,936.3 C710.5,933.2 714.0,931.2 717.5,930.0 C721.0,928.8 724.2,929.0 727.5,928.8 C730.8,928.6 734.4,928.2 737.5,928.8 C740.6,929.4 743.2,931.0 746.3,932.5 C749.4,934.0 752.1,935.8 756.3,937.5 C760.5,939.2 766.7,940.9 771.3,942.5 C775.9,944.1 779.0,945.4 783.8,946.9 C788.6,948.4 794.8,948.9 800.0,951.3 C805.2,953.7 809.4,957.3 815.0,961.3 C820.6,965.2 828.0,970.8 833.8,975.0 C839.6,979.2 845.0,983.5 850.0,986.3 C855.0,989.1 858.8,991.5 863.8,991.9 C868.8,992.3 873.5,991.4 879.9,988.8 C886.3,986.2 895.0,980.2 902.0,976.2 C909.0,972.3 916.2,968.5 922.0,965.0 C927.8,961.5 932.0,959.2 937.0,955.0 C942.0,950.8 947.4,945.4 952.0,940.0 C956.6,934.6 959.9,930.4 964.5,922.5 C969.1,914.6 974.9,901.2 979.5,892.5 C984.1,883.8 987.4,877.7 992.0,870.0 C996.6,862.3 1002.0,852.5 1007.0,846.2 C1012.0,840.0 1017.2,835.5 1022.0,832.5 C1026.8,829.5 1031.6,828.0 1035.8,828.0 C1039.9,828.0 1042.6,828.8 1047.0,832.5 C1051.4,836.2 1056.6,842.9 1062.0,850.0 C1067.4,857.1 1073.2,866.7 1079.5,875.0 C1085.8,883.3 1093.7,893.3 1099.5,900.0 C1105.3,906.7 1108.7,908.8 1114.5,915.0 C1120.3,921.2 1128.7,929.6 1134.5,937.5 C1140.3,945.4 1144.5,952.9 1149.5,962.5 C1154.5,972.1 1159.5,984.2 1164.5,995.0 C1169.5,1005.8 1174.5,1017.1 1179.5,1027.5 C1184.5,1037.9 1189.1,1046.6 1194.5,1057.5 C1199.9,1068.4 1206.6,1082.6 1212.0,1093.0 C1217.4,1103.4 1221.6,1112.6 1227.0,1120.0 C1232.4,1127.4 1237.8,1131.7 1244.5,1137.5 C1251.2,1143.3 1259.9,1148.8 1267.0,1155.0 C1274.1,1161.2 1280.3,1167.5 1287.0,1175.0 C1293.7,1182.5 1300.3,1192.1 1307.0,1200.0 C1313.7,1207.9 1320.3,1215.8 1327.0,1222.5 C1333.7,1229.2 1339.5,1234.6 1347.0,1240.0 C1354.5,1245.4 1362.8,1249.6 1372.0,1255.0 C1381.2,1260.4 1392.2,1266.2 1402.0,1272.5 C1411.8,1278.8 1426.2,1289.2 1431.0,1292.5" fill="none" stroke="#17793f" stroke-width="3.4" stroke-linejoin="round" stroke-linecap="round"/>
</g>
<rect x="532.3" y="801.5" width="899.2" height="664.9" fill="none" stroke="#000" stroke-width="2.4"/>
<line x1="532.3" y1="1466.4" x2="532.3" y2="1473.4" stroke="#000" stroke-width="2.4" stroke-linecap="butt"/>
<line x1="981.5" y1="1466.4" x2="981.5" y2="1481.4" stroke="#000" stroke-width="2.4" stroke-linecap="butt"/>
<line x1="1431.5" y1="1466.4" x2="1431.5" y2="1474.4" stroke="#000" stroke-width="2.4" stroke-linecap="butt"/>
<text x="0" y="0" font-size="30.5" text-anchor="middle" transform="translate(981.70,1512.20) scale(0.940,1)">600</text>
<text x="0" y="0" font-size="27.3" class="b" text-anchor="middle" transform="translate(981.70,1568.20) scale(0.930,1)">Wavelength (nm)</text>
<text x="0" y="0" font-size="29" class="b" text-anchor="middle" transform="translate(505.70,1095.10) rotate(-90)">Intensity (a.u.)</text>
<text x="0" y="0" font-size="42" class="b" text-anchor="start" transform="translate(480.20,823.00)">c</text>
<text x="0" y="0" font-size="25.2" class="b" text-anchor="end" transform="translate(868.30,902.30)">(v)</text>
<text x="0" y="0" font-size="25.2" class="b" text-anchor="middle" transform="translate(728.90,1121.00)">(iii)</text>
<text x="0" y="0" font-size="25.2" class="b" text-anchor="middle" transform="translate(872.00,1138.00)">(iv)</text>
<text x="0" y="0" font-size="25.2" class="b" text-anchor="start" transform="translate(969.50,1235.20)">(ii)</text>
<text x="0" y="0" font-size="25.2" class="b" text-anchor="start" transform="translate(1163.20,1300.80)">(i)</text>
<rect x="1189" y="819.5" width="226" height="218.5" fill="#fff" stroke="#1a1a1a" stroke-width="1.4"/>
<line x1="1202.5" y1="844.25" x2="1272.9" y2="844.25" stroke="#000000" stroke-width="3.4" stroke-linecap="round"/>
<text x="0" y="0" font-size="25.6" class="b" text-anchor="start" transform="translate(1279.80,855.95)">(i)  773 K</text>
<line x1="1202.5" y1="887.5" x2="1272.9" y2="887.5" stroke="#da2228" stroke-width="3.4" stroke-linecap="round"/>
<text x="0" y="0" font-size="25.6" class="b" text-anchor="start" transform="translate(1279.80,899.20)">(ii) 873 K</text>
<line x1="1202.5" y1="930.75" x2="1272.9" y2="930.75" stroke="#3d4c94" stroke-width="3.4" stroke-linecap="round"/>
<text x="0" y="0" font-size="25.6" class="b" text-anchor="start" transform="translate(1279.80,942.45)">(iii) 973 K</text>
<line x1="1202.5" y1="974.5" x2="1272.9" y2="974.5" stroke="#ad5597" stroke-width="3.4" stroke-linecap="round"/>
<text x="0" y="0" font-size="25.6" class="b" text-anchor="start" transform="translate(1279.80,986.20)">(iv) 1073 K</text>
<line x1="1202.5" y1="1018.25" x2="1272.9" y2="1018.25" stroke="#17793f" stroke-width="3.4" stroke-linecap="round"/>
<text x="0" y="0" font-size="25.6" class="b" text-anchor="start" transform="translate(1279.80,1029.95)">(v) 1173 K</text>
<line x1="979.5" y1="893" x2="889.25" y2="893.0" stroke="#000" stroke-width="1.3" stroke-linecap="butt"/><polygon points="873.2,893.0 890.2,888.1 890.2,897.9" fill="#000"/>
<line x1="729.5" y1="937.5" x2="729.5" y2="1076.5" stroke="#000" stroke-width="1.3" stroke-linecap="butt"/><polygon points="729.5,1092.5 724.6,1075.5 734.4,1075.5" fill="#000"/>
<line x1="874.5" y1="1042.5" x2="874.5" y2="1090.25" stroke="#000" stroke-width="1.3" stroke-linecap="butt"/><polygon points="874.5,1106.2 869.6,1089.2 879.4,1089.2" fill="#000"/>
<line x1="853.25" y1="1222.5" x2="943.5" y2="1222.5" stroke="#000" stroke-width="1.3" stroke-linecap="butt"/><polygon points="959.5,1222.5 942.5,1227.4 942.5,1217.6" fill="#000"/>
<line x1="1019.5" y1="1288" x2="1136.0" y2="1288.0" stroke="#000" stroke-width="1.3" stroke-linecap="butt"/><polygon points="1152.0,1288.0 1135.0,1292.9 1135.0,1283.1" fill="#000"/>
</svg></body></html>
